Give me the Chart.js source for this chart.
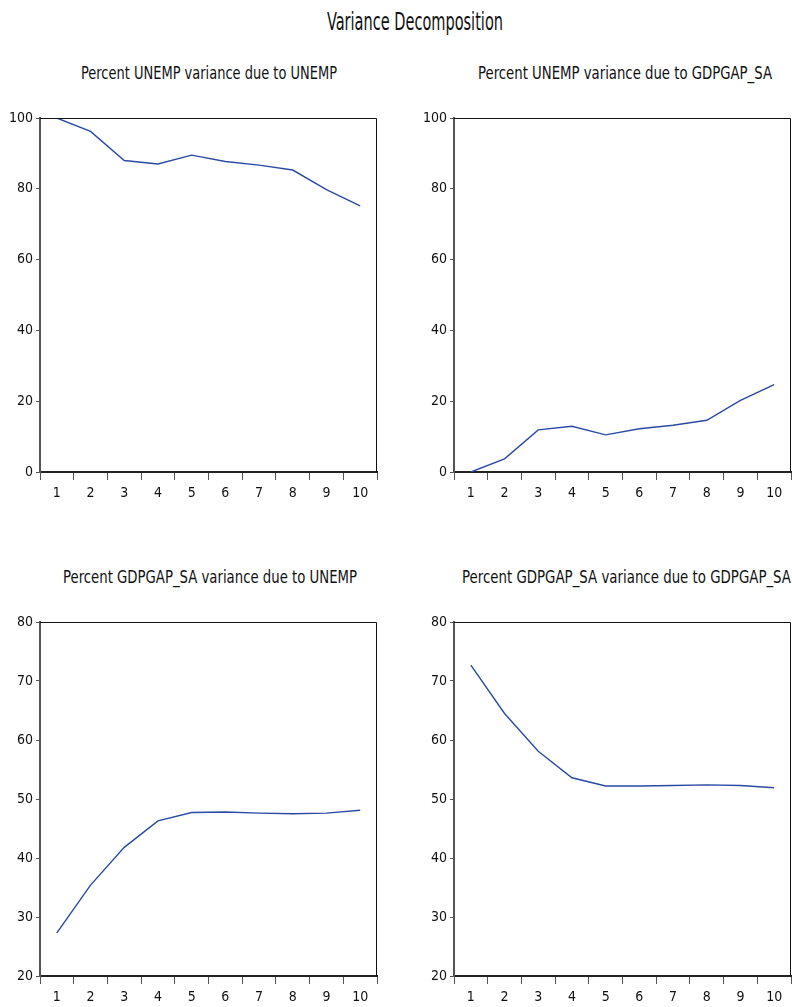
<!DOCTYPE html>
<html>
<head>
<meta charset="utf-8">
<script src="https://cdn.jsdelivr.net/npm/chart.js@4"></script>
<style>
  body { margin: 0; background: #fff; overflow: hidden; }
  #page { position: relative; width: 792px; height: 1007px; background: #fff; }
  .ttl {
    position: absolute; white-space: nowrap; color: #111;
    font-family: 'DejaVu Sans Condensed', 'DejaVu Sans', sans-serif;
    transform-origin: 0 0;
  }
  canvas { position: absolute; }
</style>
</head>
<body>
<div id="page">
  <div class="ttl" id="t0">Variance Decomposition</div>
  <div class="ttl" id="t1">Percent UNEMP variance due to UNEMP</div>
  <div class="ttl" id="t2">Percent UNEMP variance due to GDPGAP_SA</div>
  <div class="ttl" id="t3">Percent GDPGAP_SA variance due to UNEMP</div>
  <div class="ttl" id="t4">Percent GDPGAP_SA variance due to GDPGAP_SA</div>
  <canvas id="c1" style="left:0px;top:50px"></canvas>
  <canvas id="c2" style="left:412px;top:50px"></canvas>
  <canvas id="c3" style="left:0px;top:554px"></canvas>
  <canvas id="c4" style="left:412px;top:554px"></canvas>
</div>
<script>
// periods on the x axis
const periods = ['1','2','3','4','5','6','7','8','9','10']

// variance decomposition values (percent)
const unempDueUnemp = [100, 96.2, 88.0, 87.0, 89.5, 87.7, 86.7, 85.3, 79.8, 75.2]
const unempDueGdpgap = [0, 3.7, 11.9, 12.9, 10.5, 12.2, 13.2, 14.6, 20.2, 24.7]
const gdpgapDueUnemp = [27.3, 35.4, 41.8, 46.3, 47.7, 47.8, 47.6, 47.5, 47.6, 48.1]
const gdpgapDueGdpgap = [72.7, 64.5, 58.1, 53.6, 52.2, 52.2, 52.3, 52.4, 52.3, 51.9]

const fontFam = "'DejaVu Sans Condensed', 'DejaVu Sans', sans-serif"
const lineColor = '#2b4aa6'
const axisColor = '#555'

// titles: squeeze horizontally to the width of the original (narrow look)
function placeTitle(id, size, cx, top, targetW){
    const el = document.getElementById(id)
    el.style.fontSize = size + 'px'
    el.style.lineHeight = size + 'px'
    const w = el.getBoundingClientRect().width
    const sx = targetW / w
    el.style.left = (cx - targetW / 2) + 'px'
    el.style.top = top + 'px'
    el.style.transform = `scaleX(${sx})`
}
placeTitle('t0', 24, 415, 10, 176)
placeTitle('t1', 18, 209, 64, 256)
placeTitle('t2', 18, 625, 64, 294)
placeTitle('t3', 18, 210, 568, 294)
placeTitle('t4', 18, 626, 568, 329)

// thin black frame on top and right like the original
const framePlugin = {
    id: 'frame',
    afterDraw(chart){
        const a = chart.chartArea
        const ctx = chart.ctx
        ctx.save()
        ctx.strokeStyle = '#111'
        ctx.lineWidth = 1
        ctx.beginPath()
        ctx.moveTo(a.left, a.top + 0.5)
        ctx.lineTo(a.right - 0.5, a.top + 0.5)
        ctx.lineTo(a.right - 0.5, a.bottom)
        ctx.stroke()
        ctx.restore()
    }
}

function makePanel(id, w, h, data, yMin, yMax, step, yWidth, xHeight, padRight){
    const el = document.getElementById(id)
    el.width = w
    el.height = h
    el.style.width = w + 'px'
    el.style.height = h + 'px'
    return new Chart(el, {
        type: 'line',
        data: {
            labels: periods,
            datasets: [{
                data: data,
                borderColor: lineColor,
                borderWidth: 1.4,
                pointRadius: 0,
                tension: 0,
                fill: false
            }]
        },
        options: {
            responsive: false,
            animation: false,
            devicePixelRatio: 1,
            layout: { padding: { left: 0, right: padRight, top: 68, bottom: 0 } },
            plugins: {
                legend: { display: false },
                tooltip: { enabled: false },
                title: { display: false }
            },
            scales: {
                x: {
                    offset: true,
                    grid: { offset: true, drawOnChartArea: false, drawTicks: true, tickLength: 8, color: axisColor, lineWidth: 1 },
                    border: { color: '#222', width: 2 },
                    ticks: { color: '#111', font: { family: fontFam, size: 14 }, padding: 5, maxRotation: 0, autoSkip: false },
                    afterFit: (s) => { s.height = xHeight }
                },
                y: {
                    min: yMin,
                    max: yMax,
                    grid: { drawOnChartArea: false, drawTicks: true, tickLength: 4, color: axisColor },
                    border: { color: '#555', width: 2 },
                    ticks: { stepSize: step, color: '#111', font: { family: fontFam, size: 14 }, padding: 3 },
                    afterFit: (s) => { s.width = yWidth }
                }
            }
        },
        plugins: [framePlugin]
    })
}

makePanel('c1', 396, 460, unempDueUnemp, 0, 100, 20, 40, 38, 19)
makePanel('c2', 380, 460, unempDueGdpgap, 0, 100, 20, 42, 38, 1)
makePanel('c3', 396, 453, gdpgapDueUnemp, 20, 80, 10, 40, 31, 19)
makePanel('c4', 380, 453, gdpgapDueGdpgap, 20, 80, 10, 42, 31, 1)
</script>
</body>
</html>
